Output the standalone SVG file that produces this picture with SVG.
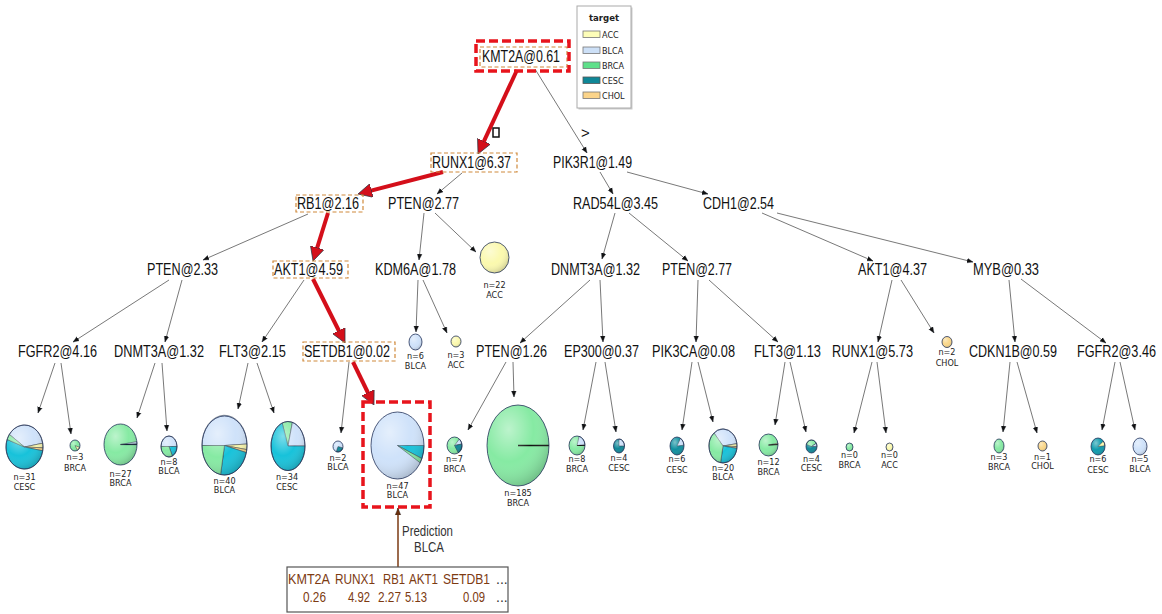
<svg xmlns="http://www.w3.org/2000/svg" width="1162" height="614" viewBox="0 0 1162 614">
<defs>
<marker id="ar" viewBox="0 0 10 10" refX="10" refY="5" markerWidth="6" markerHeight="6" markerUnits="userSpaceOnUse" orient="auto"><path d="M0,1L10,5L0,9z" fill="#111"/></marker>
<marker id="arR" viewBox="0 0 10 10" refX="6" refY="5" markerWidth="14" markerHeight="14" markerUnits="userSpaceOnUse" orient="auto"><path d="M0,0L10,5L0,10z" fill="#d40f1a"/></marker>
<marker id="arB" viewBox="0 0 10 10" refX="10" refY="5" markerWidth="7" markerHeight="7" markerUnits="userSpaceOnUse" orient="auto"><path d="M0,1L10,5L0,9z" fill="#6b2f0c"/></marker>
<radialGradient id="sh" cx="0.35" cy="0.3" r="0.8"><stop offset="0" stop-color="#fff" stop-opacity="0.45"/><stop offset="0.5" stop-color="#fff" stop-opacity="0"/><stop offset="1" stop-color="#000" stop-opacity="0.25"/></radialGradient>
</defs>
<style>
.e{stroke:#555;stroke-width:0.8;fill:none;marker-end:url(#ar)}
.r{stroke:#d40f1a;stroke-width:4;fill:none;marker-end:url(#arR)}
.t{font-family:"Liberation Sans",Arial,sans-serif;font-size:16px;fill:#111}
.l{font-family:"DejaVu Sans Condensed","Liberation Sans",sans-serif;font-size:9px;fill:#222;text-anchor:middle}
.ob{fill:none;stroke:#d08a3c;stroke-width:1.2;stroke-dasharray:4 2.5}
.rb{fill:none;stroke:#e8141c;stroke-width:3.5;stroke-dasharray:9 4}
.ACC{fill:#fbf9ae}.BLCA{fill:#cfe2fa}.BRCA{fill:#86eaa3}.CESC{fill:#17c2da}.CHOL{fill:#fad78a}
path{stroke:#2a3340;stroke-width:0.5}
.o{fill:url(#sh);stroke:#24345a;stroke-width:0.8}
.tb{font-family:"Liberation Sans",Arial,sans-serif;font-size:14px;fill:#7d3b12}
.lg{font-family:"DejaVu Sans Condensed","Liberation Sans",sans-serif;font-size:9px;fill:#222}
</style>
<rect width="1162" height="614" fill="#fff"/>

<g id="legend">
<rect x="578.5" y="7.5" width="54" height="102" fill="#ccc"/>
<rect x="577" y="6" width="54" height="102" fill="#fff" stroke="#aaa" stroke-width="1"/>
<text x="604" y="21" class="lg" style="font-weight:bold;font-size:9.5px" text-anchor="middle">target</text>
<rect x="583" y="31" width="17" height="6.5" fill="#fdfdb8" stroke="#777" stroke-width="0.8"/><text class="lg" x="602" y="37.5">ACC</text>
<rect x="583" y="47" width="17" height="6.5" fill="#cde0f7" stroke="#777" stroke-width="0.8"/><text class="lg" x="602" y="53.5">BLCA</text>
<rect x="583" y="62" width="17" height="6.5" fill="#5fe08a" stroke="#777" stroke-width="0.8"/><text class="lg" x="602" y="68.5">BRCA</text>
<rect x="583" y="77" width="17" height="6.5" fill="#0f8797" stroke="#555" stroke-width="0.8"/><text class="lg" x="602" y="83.5">CESC</text>
<rect x="583" y="92" width="17" height="6.5" fill="#fbd48a" stroke="#777" stroke-width="0.8"/><text class="lg" x="602" y="98.5">CHOL</text>
</g>

<g id="connectors">
<line class="e" x1="535" y1="69" x2="587" y2="153"/>
<line class="e" x1="462" y1="173" x2="437" y2="194"/>
<line class="e" x1="600" y1="172" x2="613" y2="194"/>
<line class="e" x1="627" y1="172" x2="708" y2="194"/>
<line class="e" x1="308" y1="214" x2="203" y2="260"/>
<line class="e" x1="424" y1="213" x2="419" y2="260"/>
<line class="e" x1="435" y1="213" x2="476" y2="252"/>
<line class="e" x1="615" y1="213" x2="602" y2="259"/>
<line class="e" x1="629" y1="213" x2="688" y2="261"/>
<line class="e" x1="762" y1="213" x2="873" y2="261"/>
<line class="e" x1="777" y1="213" x2="973" y2="262"/>
<line class="e" x1="169" y1="280" x2="73" y2="342"/>
<line class="e" x1="182" y1="280" x2="165" y2="342"/>
<line class="e" x1="304" y1="280" x2="262" y2="342"/>
<line class="e" x1="418" y1="280" x2="416" y2="332"/>
<line class="e" x1="423" y1="280" x2="447" y2="333"/>
<line class="e" x1="590" y1="280" x2="520" y2="343"/>
<line class="e" x1="600" y1="280" x2="603" y2="342"/>
<line class="e" x1="698" y1="280" x2="696" y2="342"/>
<line class="e" x1="709" y1="280" x2="778" y2="342"/>
<line class="e" x1="892" y1="280" x2="878" y2="342"/>
<line class="e" x1="901" y1="280" x2="934" y2="333"/>
<line class="e" x1="1009" y1="280" x2="1015" y2="342"/>
<line class="e" x1="1021" y1="279" x2="1106" y2="343"/>
<line class="e" x1="55" y1="363" x2="38" y2="413"/>
<line class="e" x1="61" y1="363" x2="71" y2="434"/>
<line class="e" x1="155" y1="363" x2="137" y2="418"/>
<line class="e" x1="162" y1="363" x2="167" y2="431"/>
<line class="e" x1="248" y1="363" x2="238" y2="409"/>
<line class="e" x1="257" y1="363" x2="274" y2="413"/>
<line class="e" x1="349" y1="362" x2="341" y2="433"/>
<line class="e" x1="506" y1="362" x2="468" y2="430"/>
<line class="e" x1="513" y1="362" x2="514" y2="397"/>
<line class="e" x1="596" y1="362" x2="583" y2="430"/>
<line class="e" x1="605" y1="362" x2="616" y2="432"/>
<line class="e" x1="692" y1="362" x2="682" y2="430"/>
<line class="e" x1="698" y1="362" x2="713" y2="422"/>
<line class="e" x1="785" y1="362" x2="775" y2="425"/>
<line class="e" x1="790" y1="362" x2="806" y2="432"/>
<line class="e" x1="872" y1="362" x2="854" y2="433"/>
<line class="e" x1="877" y1="362" x2="886" y2="433"/>
<line class="e" x1="1010" y1="362" x2="1003" y2="432"/>
<line class="e" x1="1017" y1="362" x2="1037" y2="433"/>
<line class="e" x1="1115" y1="362" x2="1102" y2="430"/>
<line class="e" x1="1120" y1="362" x2="1135" y2="430"/>
<line class="r" x1="517" y1="70" x2="480.4" y2="148.9"/>
<line class="r" x1="443" y1="172" x2="363.4" y2="192.6"/>
<line class="r" x1="328" y1="213" x2="314.7" y2="255.7"/>
<line class="r" x1="313" y1="279" x2="342.5" y2="338"/>
<line class="r" x1="353" y1="362" x2="371.5" y2="400"/>
<line x1="398" y1="567" x2="398" y2="508" stroke="#7b3a12" stroke-width="1.5" marker-end="url(#arB)"/>
<rect x="493" y="128" width="6" height="9" fill="none" stroke="#111" stroke-width="1.5"/>
<text x="581" y="138" style="font-family:'Liberation Sans',Arial,sans-serif;font-size:15px;fill:#111">&gt;</text>
</g>

<g id="n-kmt2a"><rect class="ob" x="480" y="47" width="87" height="20"/><rect class="rb" x="476" y="41" width="93" height="30"/><text class="t" x="482" y="62" textLength="78" lengthAdjust="spacingAndGlyphs">KMT2A@0.61</text></g>
<g id="n-runx1"><rect class="ob" x="431" y="153" width="86" height="19"/><text class="t" x="432" y="167.5" textLength="79" lengthAdjust="spacingAndGlyphs">RUNX1@6.37</text></g>
<g id="n-pik3r1"><text class="t" x="553" y="167.5" textLength="79" lengthAdjust="spacingAndGlyphs">PIK3R1@1.49</text></g>
<g id="n-rb1"><rect class="ob" x="296" y="195" width="67" height="17"/><text class="t" x="297" y="208.5" textLength="62" lengthAdjust="spacingAndGlyphs">RB1@2.16</text></g>
<g id="n-pten277a"><text class="t" x="388" y="208.5" textLength="71" lengthAdjust="spacingAndGlyphs">PTEN@2.77</text></g>
<g id="n-rad54l"><text class="t" x="573" y="208.5" textLength="85" lengthAdjust="spacingAndGlyphs">RAD54L@3.45</text></g>
<g id="n-cdh1"><text class="t" x="703" y="208.5" textLength="71" lengthAdjust="spacingAndGlyphs">CDH1@2.54</text></g>
<g id="n-pten233"><text class="t" x="147" y="274.5" textLength="71" lengthAdjust="spacingAndGlyphs">PTEN@2.33</text></g>
<g id="n-akt1a"><rect class="ob" x="273" y="261" width="75" height="17"/><text class="t" x="274" y="274.5" textLength="69" lengthAdjust="spacingAndGlyphs">AKT1@4.59</text></g>
<g id="n-kdm6a"><text class="t" x="375" y="274.5" textLength="81" lengthAdjust="spacingAndGlyphs">KDM6A@1.78</text></g>
<g id="n-dnmt3ab"><text class="t" x="551" y="274.5" textLength="89" lengthAdjust="spacingAndGlyphs">DNMT3A@1.32</text></g>
<g id="n-pten277b"><text class="t" x="662" y="274.5" textLength="70" lengthAdjust="spacingAndGlyphs">PTEN@2.77</text></g>
<g id="n-akt1b"><text class="t" x="858" y="274.5" textLength="69" lengthAdjust="spacingAndGlyphs">AKT1@4.37</text></g>
<g id="n-myb"><text class="t" x="973" y="274.5" textLength="66" lengthAdjust="spacingAndGlyphs">MYB@0.33</text></g>
<g id="n-fgfr2a"><text class="t" x="18" y="357" textLength="79" lengthAdjust="spacingAndGlyphs">FGFR2@4.16</text></g>
<g id="n-dnmt3aa"><text class="t" x="114" y="357" textLength="90" lengthAdjust="spacingAndGlyphs">DNMT3A@1.32</text></g>
<g id="n-flt3a"><text class="t" x="219" y="357" textLength="67" lengthAdjust="spacingAndGlyphs">FLT3@2.15</text></g>
<g id="n-setdb1"><rect class="ob" x="303" y="342" width="92" height="19"/><text class="t" x="304" y="357" textLength="86" lengthAdjust="spacingAndGlyphs">SETDB1@0.02</text></g>
<g id="n-pten126"><text class="t" x="476" y="357" textLength="71" lengthAdjust="spacingAndGlyphs">PTEN@1.26</text></g>
<g id="n-ep300"><text class="t" x="564" y="357" textLength="75" lengthAdjust="spacingAndGlyphs">EP300@0.37</text></g>
<g id="n-pik3ca"><text class="t" x="652" y="357" textLength="83" lengthAdjust="spacingAndGlyphs">PIK3CA@0.08</text></g>
<g id="n-flt3b"><text class="t" x="754" y="357" textLength="67" lengthAdjust="spacingAndGlyphs">FLT3@1.13</text></g>
<g id="n-runx1b"><text class="t" x="832" y="357" textLength="81" lengthAdjust="spacingAndGlyphs">RUNX1@5.73</text></g>
<g id="n-cdkn1b"><text class="t" x="969" y="357" textLength="88" lengthAdjust="spacingAndGlyphs">CDKN1B@0.59</text></g>
<g id="n-fgfr2b"><text class="t" x="1156" y="357" text-anchor="end" textLength="79" lengthAdjust="spacingAndGlyphs">FGFR2@3.46</text></g>

<g id="leaf-acc22"><ellipse class="ACC" cx="494.5" cy="257.5" rx="14.5" ry="15.5"/><ellipse class="o" cx="494.5" cy="257.5" rx="14.5" ry="15.5"/><text class="l" x="494.5" y="288">n=22</text><text class="l" x="494.5" y="297.5">ACC</text></g>
<g id="leaf-blca6"><ellipse class="BLCA" cx="415.5" cy="342" rx="6.5" ry="8"/><ellipse class="o" cx="415.5" cy="342" rx="6.5" ry="8"/><text class="l" x="415.5" y="359">n=6</text><text class="l" x="415.5" y="369">BLCA</text></g>
<g id="leaf-acc3"><ellipse class="ACC" cx="456" cy="341.5" rx="5" ry="5.5"/><ellipse class="o" cx="456" cy="341.5" rx="5" ry="5.5"/><text class="l" x="456" y="358">n=3</text><text class="l" x="456" y="368">ACC</text></g>
<g id="leaf-chol2"><ellipse class="CHOL" cx="947" cy="342" rx="5" ry="5.5"/><ellipse class="o" cx="947" cy="342" rx="5" ry="5.5"/><text class="l" x="947" y="355">n=2</text><text class="l" x="947" y="366">CHOL</text></g>

<g id="leaf-n31">
<path class="BLCA" d="M24.5,447L9.35,434.4A18.5,22 0 0 1 42.72,443.18Z"/>
<path class="ACC" d="M24.5,447L42.72,443.18A18.5,22 0 0 1 42.99,447.77Z"/>
<path class="CHOL" d="M24.5,447L42.99,447.77A18.5,22 0 0 1 42.72,450.82Z"/>
<path class="CESC" d="M24.5,447L42.72,450.82A18.5,22 0 1 1 7.12,439.48Z"/>
<path class="BRCA" d="M24.5,447L7.12,439.48A18.5,22 0 0 1 9.35,434.4Z"/>
<ellipse class="o" cx="24.5" cy="447" rx="18.5" ry="22"/>
<text class="l" x="24.5" y="480">n=31</text><text class="l" x="24.5" y="490">CESC</text></g>

<g id="leaf-n3a"><ellipse class="BRCA" cx="75" cy="445.5" rx="5" ry="5.5"/>
<path class="ACC" d="M75,445.5L79.7,447.4A5,5.5 0 0 1 77.5,450.3Z"/>
<ellipse class="o" cx="75" cy="445.5" rx="5" ry="5.5"/>
<text class="l" x="75" y="460">n=3</text><text class="l" x="75" y="471">BRCA</text></g>

<g id="leaf-n27"><ellipse class="BRCA" cx="120.5" cy="444.5" rx="16.5" ry="20.5"/>
<path class="BLCA" d="M120.5,444.5L136.8,441.6A16.5,20.5 0 0 1 137,443.8Z"/>
<line x1="120.5" y1="444.5" x2="137" y2="444.5" stroke="#123" stroke-width="1.2"/>
<ellipse class="o" cx="120.5" cy="444.5" rx="16.5" ry="20.5"/>
<text class="l" x="120.5" y="477">n=27</text><text class="l" x="120.5" y="486">BRCA</text></g>

<g id="leaf-n8a">
<path class="BLCA" d="M169,446.5L161,446.5A8,10.5 0 0 1 177,446.5Z"/>
<path class="CESC" d="M169,446.5L177,446.5A8,10.5 0 0 1 172.4,456Z"/>
<path class="BRCA" d="M169,446.5L172.4,456A8,10.5 0 0 1 161,446.5Z"/>
<ellipse class="o" cx="169" cy="446.5" rx="8" ry="10.5"/>
<text class="l" x="169" y="465">n=8</text><text class="l" x="169" y="474">BLCA</text></g>

<g id="leaf-n40">
<path class="BLCA" d="M224.5,445.5L202,445.5A22.5,29.5 0 0 1 247,444Z"/>
<path class="ACC" d="M224.5,445.5L247,444A22.5,29.5 0 0 1 246.8,449.6Z"/>
<path class="CHOL" d="M224.5,445.5L246.8,449.6A22.5,29.5 0 0 1 246.3,452.6Z"/>
<path class="CESC" d="M224.5,445.5L246.3,452.6A22.5,29.5 0 0 1 220.6,474.6Z"/>
<path class="BRCA" d="M224.5,445.5L220.6,474.6A22.5,29.5 0 0 1 202,445.5Z"/>
<ellipse class="o" cx="224.5" cy="445.5" rx="22.5" ry="29.5"/>
<text class="l" x="224.5" y="484">n=40</text><text class="l" x="224.5" y="493">BLCA</text></g>

<g id="leaf-n34">
<path class="BRCA" d="M288,446L282.2,423A17,24.5 0 0 1 292.4,422.3Z"/>
<path class="BLCA" d="M288,446L292.4,422.3A17,24.5 0 0 1 305,446Z"/>
<path class="CESC" d="M288,446L305,446A17,24.5 0 1 1 282.2,423Z"/>
<ellipse class="o" cx="288" cy="446" rx="17" ry="24.5"/>
<text class="l" x="287" y="480">n=34</text><text class="l" x="287" y="490">CESC</text></g>

<g id="leaf-n2"><ellipse class="BLCA" cx="338" cy="446.5" rx="5" ry="5.5"/>
<path class="CESC" d="M338,446.5L342.8,447.9A5,5.5 0 0 1 336.3,451.7Z" style="fill:#0f8797"/>
<ellipse class="o" cx="338" cy="446.5" rx="5" ry="5.5"/>
<text class="l" x="338" y="461">n=2</text><text class="l" x="338" y="470">BLCA</text></g>

<g id="leaf-n47"><ellipse class="BLCA" cx="397.5" cy="445.5" rx="26.5" ry="33.5"/>
<path class="CESC" d="M397.5,445.5L424,445.5A26.5,33.5 0 0 1 421.9,458.6Z"/>
<path class="BRCA" d="M397.5,445.5L421.9,458.6A26.5,33.5 0 0 1 420.2,462.8Z"/>
<ellipse class="o" cx="397.5" cy="445.5" rx="26.5" ry="33.5"/>
<text class="l" x="397.5" y="489">n=47</text><text class="l" x="397.5" y="498">BLCA</text>
<rect class="rb" x="363" y="402" width="67" height="105"/></g>

<g id="leaf-n7"><ellipse class="BRCA" cx="454.5" cy="445.5" rx="7.5" ry="8.5"/>
<path class="BLCA" d="M454.5,445.5L459.3,439A7.5,8.5 0 0 1 461.9,444Z"/>
<path class="CESC" d="M454.5,445.5L461.9,444A7.5,8.5 0 0 1 458.3,452.9Z" style="fill:#0f8797"/>
<ellipse class="o" cx="454.5" cy="445.5" rx="7.5" ry="8.5"/>
<text class="l" x="454.5" y="462">n=7</text><text class="l" x="454.5" y="472">BRCA</text></g>

<g id="leaf-n185"><ellipse class="BRCA" cx="518" cy="445.5" rx="31" ry="40.5"/>
<line x1="518" y1="445.5" x2="549" y2="445.5" stroke="#111" stroke-width="1.5"/>
<ellipse class="o" cx="518" cy="445.5" rx="31" ry="40.5"/>
<text class="l" x="518" y="496">n=185</text><text class="l" x="518" y="506">BRCA</text></g>

<g id="leaf-n8b"><ellipse class="BRCA" cx="577" cy="445.5" rx="8" ry="9.5"/>
<path class="BLCA" d="M577,445.5L579.1,436.3A8,9.5 0 0 1 585,444.7Z"/>
<line x1="577" y1="445.5" x2="585" y2="445.5" stroke="#111" stroke-width="1"/>
<ellipse class="o" cx="577" cy="445.5" rx="8" ry="9.5"/>
<text class="l" x="577" y="462">n=8</text><text class="l" x="577" y="472">BRCA</text></g>

<g id="leaf-n4a"><ellipse class="CESC" cx="619" cy="446" rx="5.5" ry="7" style="fill:#0f8797"/>
<path class="BLCA" d="M619,446L619,439A5.5,7 0 0 1 624.5,446Z"/>
<ellipse class="o" cx="619" cy="446" rx="5.5" ry="7"/>
<text class="l" x="619" y="461">n=4</text><text class="l" x="619" y="471">CESC</text></g>

<g id="leaf-n6a"><ellipse class="CESC" cx="677" cy="446" rx="7" ry="9" style="fill:#0f8f9f"/>
<path class="BLCA" d="M677,446L680.5,438.2A7,9 0 0 1 684,445.2Z"/>
<ellipse class="o" cx="677" cy="446" rx="7" ry="9"/>
<text class="l" x="677" y="462">n=6</text><text class="l" x="677" y="473">CESC</text></g>

<g id="leaf-n20">
<path class="BLCA" d="M723,446L714,432.98A14,17 0 0 1 736.86,443.63Z"/>
<path class="ACC" d="M723,446L736.86,443.63A14,17 0 0 1 736.99,446.59Z"/>
<path class="CHOL" d="M723,446L736.99,446.59A14,17 0 0 1 736.86,448.37Z"/>
<path class="CESC" d="M723,446L736.86,448.37A14,17 0 0 1 720.57,462.74Z"/>
<path class="BRCA" d="M723,446L720.57,462.74A14,17 0 0 1 714,432.98Z"/>
<ellipse class="o" cx="723" cy="446" rx="14" ry="17"/>
<text class="l" x="723" y="471">n=20</text><text class="l" x="723" y="480">BLCA</text></g>

<g id="leaf-n12"><ellipse class="BRCA" cx="768.5" cy="445" rx="9.5" ry="11"/>
<path class="ACC" d="M768.5,445L777.9,443.1A9.5,11 0 0 1 778,444.2Z"/>
<line x1="768.5" y1="445" x2="778" y2="444.6" stroke="#111" stroke-width="1"/>
<ellipse class="o" cx="768.5" cy="445" rx="9.5" ry="11"/>
<text class="l" x="768.5" y="465">n=12</text><text class="l" x="768.5" y="475">BRCA</text></g>

<g id="leaf-n4b"><ellipse class="CESC" cx="811.5" cy="446.5" rx="5.5" ry="6.5" style="fill:#0f8797"/>
<path class="BRCA" d="M811.5,446.5L806.3,444.3A5.5,6.5 0 0 1 816.3,443.25Z"/>
<path class="BLCA" d="M811.5,446.5L816.3,443.25A5.5,6.5 0 0 1 817,446.5Z"/>
<ellipse class="o" cx="811.5" cy="446.5" rx="5.5" ry="6.5"/>
<text class="l" x="811.5" y="462">n=4</text><text class="l" x="811.5" y="471">CESC</text></g>

<g id="leaf-n0a"><ellipse class="BRCA" cx="849.5" cy="447" rx="3.5" ry="4"/><ellipse class="o" cx="849.5" cy="447" rx="3.5" ry="4"/><text class="l" x="849.5" y="458">n=0</text><text class="l" x="849.5" y="468">BRCA</text></g>
<g id="leaf-n0b"><ellipse class="ACC" cx="889.5" cy="447" rx="3.5" ry="4"/><ellipse class="o" cx="889.5" cy="447" rx="3.5" ry="4"/><text class="l" x="889.5" y="458">n=0</text><text class="l" x="889.5" y="468">ACC</text></g>
<g id="leaf-n3b"><ellipse class="BRCA" cx="999" cy="446" rx="5" ry="7"/><ellipse class="o" cx="999" cy="446" rx="5" ry="7"/><text class="l" x="999" y="460">n=3</text><text class="l" x="999" y="470">BRCA</text></g>
<g id="leaf-n1"><ellipse class="CHOL" cx="1042.5" cy="446" rx="4.5" ry="5"/><ellipse class="o" cx="1042.5" cy="446" rx="4.5" ry="5"/><text class="l" x="1042.5" y="460">n=1</text><text class="l" x="1042.5" y="469">CHOL</text></g>
<g id="leaf-n6b"><ellipse class="CESC" cx="1098" cy="446.5" rx="7" ry="8.5" style="fill:#0f9aac"/>
<path class="ACC" d="M1098,446.5L1103.4,441A7,8.5 0 0 1 1105,445.8Z"/>
<ellipse class="o" cx="1098" cy="446.5" rx="7" ry="8.5"/>
<text class="l" x="1098" y="462">n=6</text><text class="l" x="1098" y="473">CESC</text></g>
<g id="leaf-n5"><ellipse class="BLCA" cx="1140" cy="446.5" rx="7" ry="8.5"/><ellipse class="o" cx="1140" cy="446.5" rx="7" ry="8.5"/><text class="l" x="1140" y="462">n=5</text><text class="l" x="1140" y="472">BLCA</text></g>

<g id="prediction">
<text x="402" y="536" textLength="51" lengthAdjust="spacingAndGlyphs" style="font-family:'Liberation Sans',Arial,sans-serif;font-size:14px;fill:#333">Prediction</text>
<text x="414" y="552" textLength="30" lengthAdjust="spacingAndGlyphs" style="font-family:'Liberation Sans',Arial,sans-serif;font-size:14px;fill:#333">BLCA</text>
</g>

<g id="table">
<rect x="287" y="567" width="221" height="45" fill="#fff" stroke="#555" stroke-width="1.2"/>
<text class="tb" x="288" y="584" textLength="42" lengthAdjust="spacingAndGlyphs">KMT2A</text>
<text class="tb" x="335" y="584" textLength="40" lengthAdjust="spacingAndGlyphs">RUNX1</text>
<text class="tb" x="383" y="584" textLength="22" lengthAdjust="spacingAndGlyphs">RB1</text>
<text class="tb" x="409" y="584" textLength="29" lengthAdjust="spacingAndGlyphs">AKT1</text>
<text class="tb" x="443" y="584" textLength="47" lengthAdjust="spacingAndGlyphs">SETDB1</text>
<text class="tb" x="496" y="584" style="fill:#333">...</text>
<text class="tb" x="303" y="602" textLength="23" lengthAdjust="spacingAndGlyphs">0.26</text>
<text class="tb" x="348" y="602" textLength="22" lengthAdjust="spacingAndGlyphs">4.92</text>
<text class="tb" x="378" y="602" textLength="23" lengthAdjust="spacingAndGlyphs">2.27</text>
<text class="tb" x="405" y="602" textLength="22" lengthAdjust="spacingAndGlyphs">5.13</text>
<text class="tb" x="463" y="602" textLength="22" lengthAdjust="spacingAndGlyphs">0.09</text>
<text class="tb" x="496" y="602" style="fill:#333">...</text>
</g>
</svg>
